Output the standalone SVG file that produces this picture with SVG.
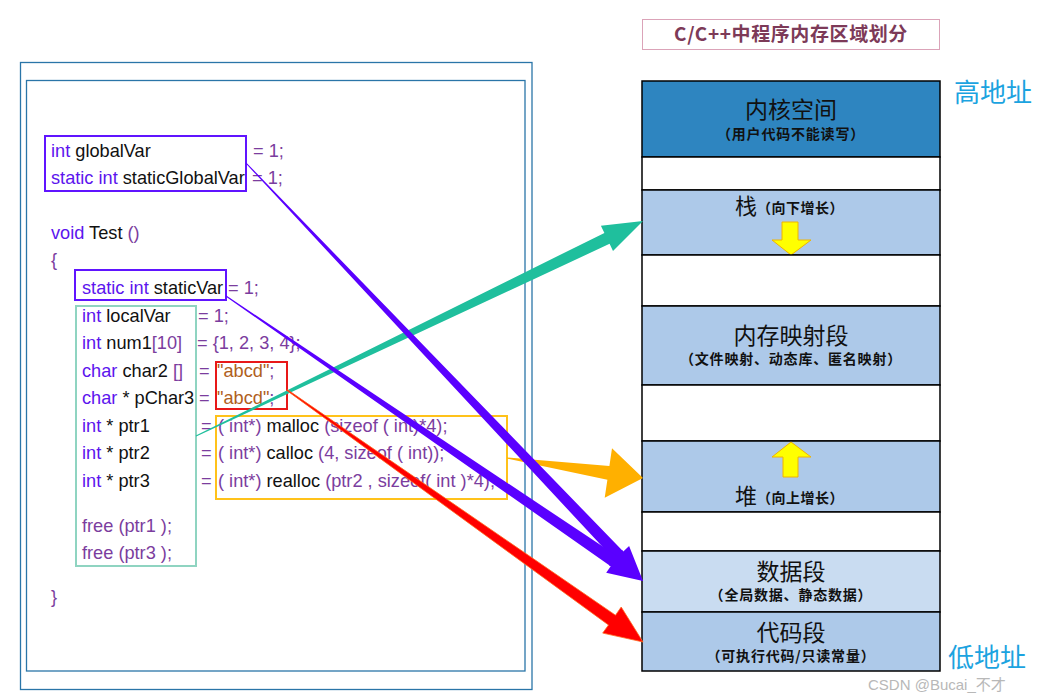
<svg xmlns="http://www.w3.org/2000/svg" width="1050" height="699" viewBox="0 0 1050 699">
<style>
.code{font-family:"Liberation Sans",Arial,sans-serif;font-size:18.2px;fill:#111}
.k{fill:#5c14ee}
.o{fill:#7b3d9e}
.s{fill:#b0601c}
.frame{fill:none;stroke:#2a75a8;stroke-width:1.3}
.seg{stroke:#000;stroke-width:1.5}
.big{font-family:"Noto Sans CJK SC","Noto Sans",sans-serif;font-size:23px;fill:#111;text-anchor:middle}
.small{font-family:"Noto Sans CJK SC","Noto Sans",sans-serif;font-size:14px;font-weight:bold;fill:#111;text-anchor:middle;letter-spacing:0.8px}
.addr{font-family:"Noto Sans CJK SC",sans-serif;font-size:26px;fill:#1ba3e0}
.yarrow{fill:#ffff00;stroke:#f0b400;stroke-width:1}
</style>
<rect width="1050" height="699" fill="#fff"/>

<g id="code-frame">
<rect class="frame" x="20.5" y="62.5" width="511.5" height="627"/>
<rect class="frame" x="26.5" y="80.5" width="498.5" height="590.5"/>
</g>

<g id="code">
<text class="code" x="51" y="157"><tspan class="k">int</tspan> globalVar</text>
<text class="code o" x="253" y="157">= 1;</text>
<text class="code" x="51" y="184"><tspan class="k">static int</tspan> staticGlobalVar</text>
<text class="code o" x="252" y="184">= 1;</text>
<text class="code" x="51" y="239"><tspan class="k">void</tspan> Test <tspan class="o">()</tspan></text>
<text class="code o" x="51" y="266">{</text>
<text class="code" x="82" y="294"><tspan class="k">static int</tspan> staticVar</text>
<text class="code o" x="228" y="294">= 1;</text>
<text class="code" x="82" y="322"><tspan class="k">int</tspan> localVar</text>
<text class="code o" x="198" y="322">= 1;</text>
<text class="code" x="82" y="349"><tspan class="k">int</tspan> num1<tspan class="o">[10]</tspan></text>
<text class="code o" x="197" y="349">= {1, 2, 3, 4};</text>
<text class="code" x="82" y="377"><tspan class="k">char</tspan> char2 <tspan class="o">[]</tspan></text>
<text class="code o" x="199" y="377">= <tspan class="s" x="217">"abcd"</tspan>;</text>
<text class="code" x="82" y="404"><tspan class="k">char</tspan> * pChar3</text>
<text class="code o" x="199" y="404">= <tspan class="s" x="217">"abcd"</tspan>;</text>
<text class="code" x="82" y="432"><tspan class="k">int</tspan> * ptr1</text>
<text class="code o" x="201" y="432">= <tspan x="218">( int*) </tspan><tspan fill="#111">malloc</tspan> (sizeof ( int)*4);</text>
<text class="code" x="82" y="459"><tspan class="k">int</tspan> * ptr2</text>
<text class="code o" x="201" y="459">= <tspan x="218">( int*) </tspan><tspan fill="#111">calloc</tspan> (4, sizeof ( int));</text>
<text class="code" x="82" y="487"><tspan class="k">int</tspan> * ptr3</text>
<text class="code o" x="201" y="487">= <tspan x="218">( int*) </tspan><tspan fill="#111">realloc</tspan> (ptr2 , sizeof( int )*4);</text>
<text class="code o" x="82" y="532">free (ptr1 );</text>
<text class="code o" x="82" y="559">free (ptr3 );</text>
<text class="code o" x="51" y="603">}</text>
</g>

<g id="highlight-boxes" fill="none" stroke-width="2">
<rect id="box-globals" x="45" y="136" width="201" height="55" stroke="#6014ff"/>
<rect id="box-staticvar" x="75" y="270" width="151" height="30" stroke="#6014ff"/>
<rect id="box-locals" x="76" y="306" width="120" height="260" stroke="#8fd4c1"/>
<rect id="box-strings" x="216" y="362" width="71" height="47" stroke="#e81818"/>
<rect id="box-heap" x="216" y="416" width="291" height="83" stroke="#ffc21a"/>
</g>

<g id="title">
<rect x="642.5" y="19.5" width="297" height="30" fill="#fff" stroke="#dba3b8" stroke-width="1"/>
<text x="791" y="41" text-anchor="middle" font-family="'Noto Sans CJK SC','Liberation Serif',serif" font-size="19" font-weight="bold" letter-spacing="0.6" fill="#7d3a58">C/C++中程序内存区域划分</text>
</g>

<g id="memory">
<g id="kernel"><rect class="seg" x="642" y="81" width="298" height="76" fill="#2e85c0"/>
<text class="big" x="791" y="118">内核空间</text><text class="small" x="791" y="139">（用户代码不能读写）</text></g>
<g id="gap1"><rect class="seg" x="642" y="157" width="298" height="33" fill="#fff"/></g>
<g id="stack"><rect class="seg" x="642" y="190" width="298" height="65" fill="#adc9e9"/>
<text x="746" y="214" font-family="'Noto Sans CJK SC',sans-serif" font-size="22" fill="#111" text-anchor="middle">栈</text>
<text x="757" y="213" font-family="'Noto Sans CJK SC',sans-serif" font-size="14" font-weight="bold" letter-spacing="0.5" fill="#111">（向下增长）</text>
<path class="yarrow" d="M782,222 H798 V240 H811 L791,255 L772,240 H782 Z"/></g>
<g id="gap2"><rect class="seg" x="642" y="255" width="298" height="51" fill="#fff"/></g>
<g id="mmap"><rect class="seg" x="642" y="306" width="298" height="79" fill="#adc9e9"/>
<text class="big" x="791" y="344">内存映射段</text><text class="small" x="791" y="364">（文件映射、动态库、匿名映射）</text></g>
<g id="gap3"><rect class="seg" x="642" y="385" width="298" height="56" fill="#fff"/></g>
<g id="heap"><rect class="seg" x="642" y="441" width="298" height="71" fill="#adc9e9"/>
<path class="yarrow" d="M791,442 L811,457 H798 V477 H783 V457 H772 Z"/>
<text x="746" y="504" font-family="'Noto Sans CJK SC',sans-serif" font-size="22" fill="#111" text-anchor="middle">堆</text>
<text x="757" y="503" font-family="'Noto Sans CJK SC',sans-serif" font-size="14" font-weight="bold" letter-spacing="0.5" fill="#111">（向上增长）</text></g>
<g id="gap4"><rect class="seg" x="642" y="512" width="298" height="39" fill="#fff"/></g>
<g id="data"><rect class="seg" x="642" y="551" width="298" height="61" fill="#c9dcf1"/>
<text class="big" x="791" y="580">数据段</text><text class="small" x="791" y="600">（全局数据、静态数据）</text></g>
<g id="text-seg"><rect class="seg" x="642" y="612" width="298" height="59" fill="#adc9e9"/>
<text class="big" x="791" y="641">代码段</text><text class="small" x="791" y="661">（可执行代码/只读常量）</text></g>
</g>

<g id="labels">
<text class="addr" x="954" y="102">高地址</text>
<text class="addr" x="948" y="667">低地址</text>
<text x="868" y="690" font-family="'Liberation Sans','Noto Sans CJK SC',sans-serif" font-size="15" fill="#b8b8b8">CSDN @Bucai_不才</text>
</g>

<g id="connectors">
<polygon id="arrow-stack" fill="#1fbf9d" points="196.2,436.5 609.6,243.8 613.0,251.0 643,221 600.9,225.7 604.4,232.9 195.8,435.5"/>
<polygon id="arrow-heap" fill="#ffb000" points="506.9,458.5 607.4,479.8 604.7,497.7 643,478 612.0,448.2 609.4,466.0 507.1,457.5"/>
<polygon id="arrow-data1" fill="#5a00ff" points="245.6,163.3 614.6,559.8 608.8,565.3 643,581 629.1,546.0 623.3,551.5 246.4,162.7"/>
<polygon id="arrow-data2" fill="#5a00ff" points="225.7,296.4 610.7,566.2 606.2,572.8 643,581 622.0,549.7 617.5,556.3 226.3,295.6"/>
<polygon id="arrow-code" fill="#ff0000" stroke="#ff6a20" stroke-width="0.8" stroke-linejoin="round" points="286.7,390.4 608.5,625.0 602.7,633.1 643,642 621.2,607.0 615.5,615.2 287.3,389.6"/>
</g>
</svg>
